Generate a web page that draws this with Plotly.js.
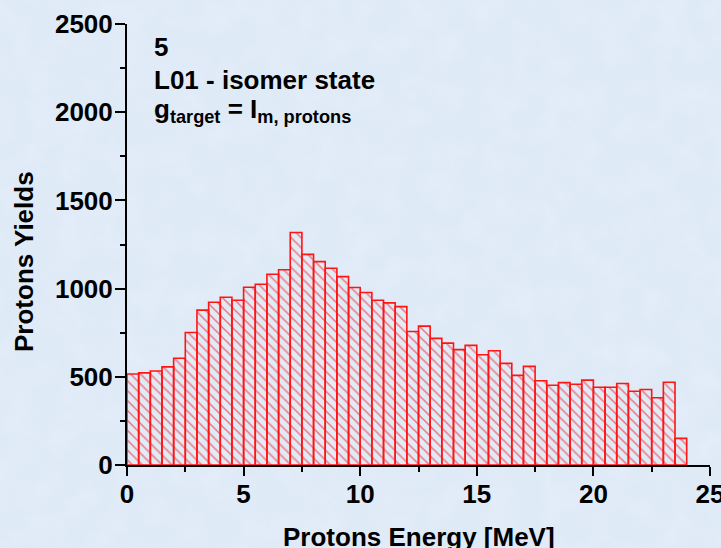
<!DOCTYPE html>
<html>
<head>
<meta charset="utf-8">
<script src="https://cdn.plot.ly/plotly-3.0.1.min.js"></script>
<style>
  html, body { margin: 0; padding: 0; width: 721px; height: 548px; overflow: hidden; }
  #wrap { position: relative; width: 721px; height: 548px; }
  #paper { position: absolute; left: 0; top: 0; }
  #chart { position: absolute; left: 0; top: 0; width: 721px; height: 548px; }
</style>
</head>
<body>
<div id="wrap">
  <!-- mottled light-blue paper behind the chart -->
  <svg id="paper" width="721" height="548" xmlns="http://www.w3.org/2000/svg">
    <filter id="mottle" x="0" y="0" width="100%" height="100%">
      <feTurbulence type="fractalNoise" baseFrequency="0.035" numOctaves="4" seed="7"/>
      <feColorMatrix type="matrix" values="0 0 0 0 0.79  0 0 0 0 0.86  0 0 0 0 0.95  0 0 0 -2.2 1.35"/>
    </filter>
    <rect width="721" height="548" fill="#dfeaf7"/>
    <rect width="721" height="548" filter="url(#mottle)" opacity="0.6"/>
  </svg>
  <div id="chart"></div>
</div>
<script>
// Proton yield per 0.5 MeV energy bin, starting at 0 MeV
const binStart = 0;
const binWidth = 0.5;
const yields = [
  516, 522, 533, 556, 605, 751, 878, 923, 951, 934,
  1008, 1025, 1081, 1107, 1318, 1194, 1153, 1115, 1068, 1006,
  978, 934, 919, 898, 757, 787, 718, 691, 654, 678,
  625, 648, 576, 508, 559, 478, 452, 467, 458, 481,
  441, 441, 462, 418, 428, 381, 469, 151
];
const xTicks = [0, 5, 10, 15, 20, 25];
const yTicks = [0, 500, 1000, 1500, 2000, 2500];
const labelLines = [
  '5',
  'L01 - isomer state',
  'g<sub>target</sub> = I<sub>m, protons</sub>'
];
const xTitle = 'Protons Energy [MeV]';
const yTitle = 'Protons Yields';

const FONT = 'Liberation Sans, Arial, Helvetica, sans-serif';
const boldFont = (size) => ({ family: FONT, size: size, color: '#000', weight: 'bold' });

const trace = {
  type: 'bar',
  y: yields,
  x0: binStart + binWidth / 2,
  dx: binWidth,
  width: binWidth,
  marker: {
    color: 'rgba(0,0,0,0)',
    line: { color: '#ff1414', width: 1.6 },
    pattern: {
      shape: '\\',
      fillmode: 'overlay',
      fgcolor: '#ff0000',
      size: 7,
      solidity: 0.22
    }
  },
  hoverinfo: 'x+y'
};

const axisCommon = {
  showgrid: false,
  zeroline: false,
  showline: true,
  linecolor: '#000',
  linewidth: 2,
  ticks: 'outside',
  tickcolor: '#000',
  tickwidth: 2,
  ticklen: 9,
  ticklabeloverflow: 'allow',
  tickfont: boldFont(26),
  fixedrange: true
};

const layout = {
  width: 721,
  height: 548,
  margin: { l: 127, r: 11, t: 24, b: 83 },
  paper_bgcolor: 'rgba(0,0,0,0)',
  plot_bgcolor: 'rgba(0,0,0,0)',
  showlegend: false,
  bargap: 0,
  xaxis: Object.assign({}, axisCommon, {
    range: [0, 25],
    tickvals: xTicks,
    ticktext: xTicks.map(String),
    ticklabelstandoff: -4,
    minor: { dtick: 2.5, ticks: 'outside', ticklen: 5, tickwidth: 2, tickcolor: '#000' }
  }),
  yaxis: Object.assign({}, axisCommon, {
    range: [0, 2500],
    tickvals: yTicks,
    ticktext: yTicks.map(String),
    ticklen: 10,
    ticklabelstandoff: -3,
    minor: { dtick: 250, ticks: 'outside', ticklen: 5, tickwidth: 2, tickcolor: '#000' }
  }),
  annotations: labelLines.map((t, i) => ({
    text: t,
    xref: 'x',
    yref: 'y',
    x: 1.08,
    y: [2370, 2180, 2010][i],
    xanchor: 'left',
    yanchor: 'middle',
    showarrow: false,
    align: 'left',
    font: boldFont(26)
  })).concat([
    {
      // x-axis title, sitting low under the tick labels
      text: xTitle,
      xref: 'paper', yref: 'paper',
      x: 0.5, y: -0.124,
      xanchor: 'center', yanchor: 'top',
      showarrow: false,
      font: boldFont(26)
    },
    {
      // y-axis title, rotated
      text: yTitle,
      xref: 'paper', yref: 'paper',
      x: -0.1767, y: 0.4626,
      xanchor: 'center', yanchor: 'middle',
      textangle: -90,
      showarrow: false,
      font: boldFont(26)
    }
  ])
};

Plotly.newPlot('chart', [trace], layout, { displayModeBar: false, staticPlot: true });
</script>
</body>
</html>
